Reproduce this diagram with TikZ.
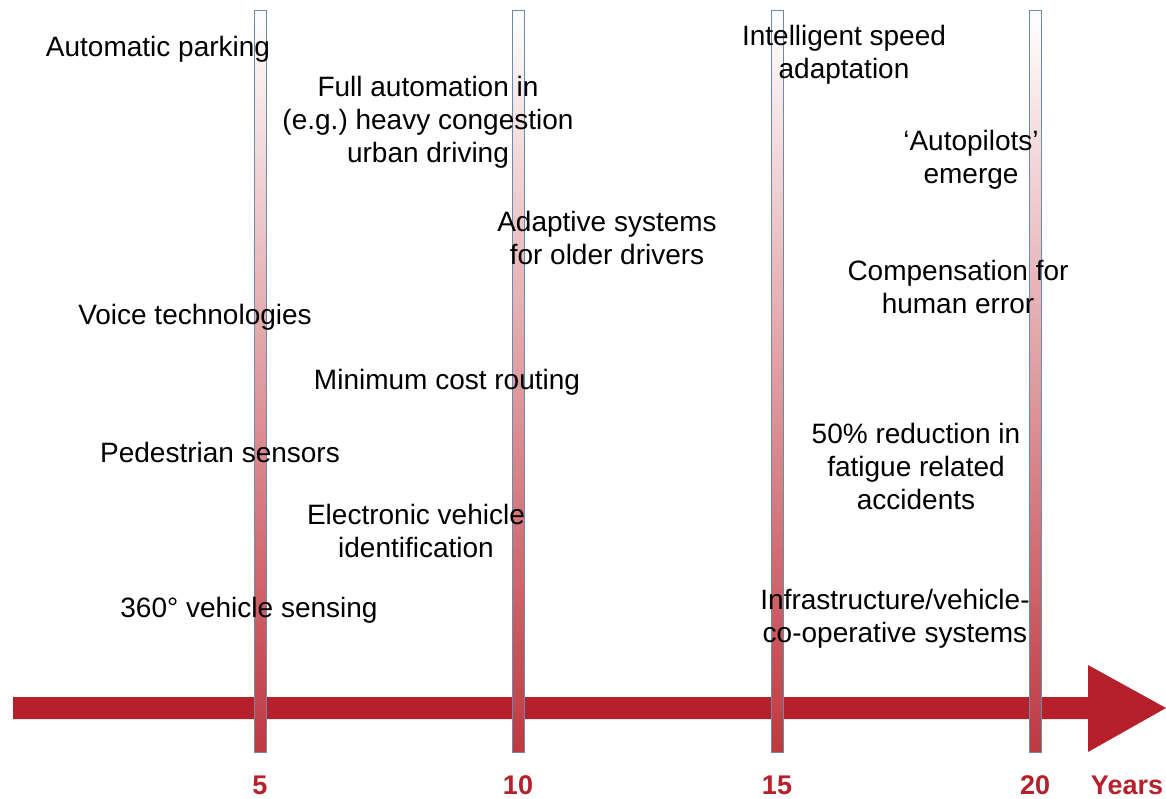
\documentclass[tikz,border=0pt]{standalone}
\usepackage{fontspec}
\setmainfont{Liberation Sans}
\definecolor{arrowred}{HTML}{B5202A}
\definecolor{barred}{HTML}{BF3840}
\definecolor{barline}{HTML}{6A8CAA}
\begin{document}
\begin{tikzpicture}[x=1pt,y=-1pt,
  lbl/.style={font=\fontsize{28}{33}\selectfont, align=center, inner sep=0pt, anchor=north,
              execute at begin node={\rule{0pt}{21pt}}},
  tick/.style={font=\fontsize{27}{30}\selectfont\bfseries, text=arrowred, inner sep=0pt, anchor=base},
  bar/.style={draw=barline, line width=1pt, top color=white, bottom color=barred,
              minimum width=12pt, minimum height=742pt, inner sep=0pt}]
\useasboundingbox (0,0) rectangle (1166,798);
% timeline arrow
\fill[arrowred] (13,697) -- (1088,697) -- (1088,665) -- (1166,708) -- (1088,752) -- (1088,719) -- (13,719) -- cycle;
% bars
\node[bar] (b5)  at (260,381) {};
\node[bar] (b10) at (518,381) {};
\node[bar] (b15) at (777,381) {};
\node[bar] (b20) at (1035,381) {};
% ticks
\node[tick] (t5)  at (260,794) {5};
\node[tick] (t10) at (518,794) {10};
\node[tick] (t15) at (777,794) {15};
\node[tick] (t20) at (1035,794) {20};
\node[tick] (ty)  at (1127,794) {Years};
% labels (y = first baseline - 21)
\node[lbl] (l1)  at (158,35)  {Automatic parking};
\node[lbl] (l2)  at (428,76)  {Full automation in\\(e.g.)\ heavy congestion\\urban driving};
\node[lbl] (l3)  at (844,25)  {Intelligent speed\\adaptation};
\node[lbl] (l4)  at (971,130) {‘Autopilots’\\emerge};
\node[lbl] (l5)  at (607,211) {Adaptive systems\\for older drivers};
\node[lbl] (l6)  at (958,260) {Compensation for\\human error};
\node[lbl] (l7)  at (195,303) {Voice technologies};
\node[lbl] (l8)  at (447,368) {Minimum cost routing};
\node[lbl] (l9)  at (220,441) {Pedestrian sensors};
\node[lbl] (l10) at (916,423) {50\% reduction in\\fatigue related\\accidents};
\node[lbl] (l11) at (416,504) {Electronic vehicle\\identification};
\node[lbl] (l12) at (249,596) {360° vehicle sensing};
\node[lbl] (l13) at (895,589) {Infrastructure/vehicle-\\co-operative systems};
\end{tikzpicture}
\end{document}
